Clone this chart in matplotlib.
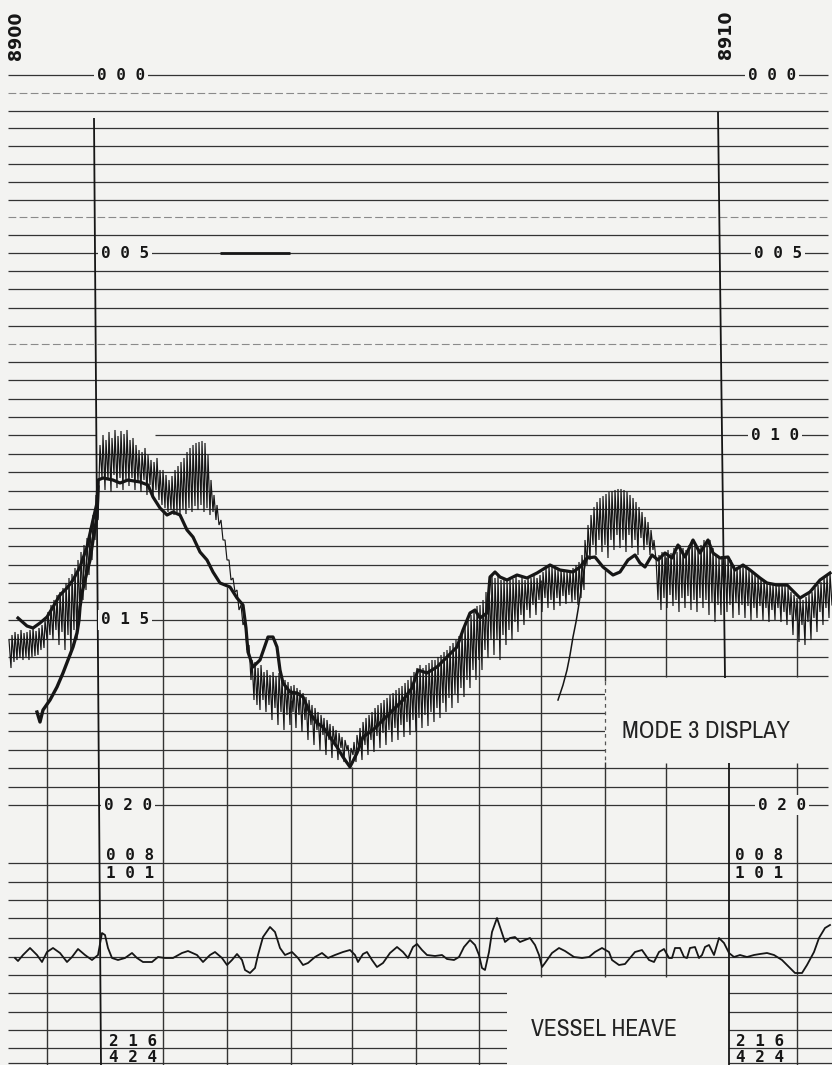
import numpy as np
import matplotlib
matplotlib.use("Agg")
import matplotlib.pyplot as plt
import matplotlib.font_manager as fm
from matplotlib.patches import Rectangle

# ---------------------------------------------------------------
# Data read from the record (x: position along the record,
# y: position down the record, 0 at the top edge)
# ---------------------------------------------------------------
fix_labels = ["8900", "8910"]
fix_label_x = [16, 726]
fix_label_y = [36, 35]

# depth scale rows: labelled rows 000/005/010/015/020
depth_anchor_row = [0, 10, 20, 30, 40]
depth_anchor_y = [75, 253, 435, 620, 805]
lower_rows_y = [863, 882, 900, 918, 938, 957, 975, 993, 1012, 1030, 1048, 1063]
faint_rows = [1, 8, 15]

left_labels = ["0 0 0", "0 0 5", "0 1 5", "0 2 0"]
left_label_x = [121, 125, 125, 128]
left_label_y = [75, 253, 620, 805]
right_labels = ["0 0 0", "0 0 5", "0 1 0", "0 2 0"]
right_label_x = [772, 778, 775, 782]
right_label_y = [75, 253, 435, 805]

info_labels = ["0 0 8", "1 0 1", "2 1 6", "4 2 4"]
info_label_y = [855, 874, 1041, 1057]
info_label_x_left = [130, 130, 133, 133]
info_label_x_right = [759, 759, 760, 760]

# fix (major) lines: top x, top y, bottom x, bottom y
fix_lines = [(94, 118, 101, 1065), (718, 112, 725, 678), (729, 763, 729, 1065)]

# timing marks hanging below the trace: x, start, end
time_marks = [(47, 618, 1065), (163, 510, 1065), (227, 587, 1065), (291, 700, 1065),
              (352, 767, 1065), (416, 690, 1065), (479, 620, 1065), (541, 580, 977),
              (605, 570, 681), (605, 762, 977), (666, 557, 677), (666, 763, 977),
              (797, 600, 677), (797, 763, 1065)]
dashed_marks = [(605, 681, 762)]

# blank boxes for captions: x0, y0, x1, y1
mode_box = (605, 681, 832, 762)
heave_box = (507, 981, 729, 1065)

# smoothed bottom profile (heavy line)
bottom_profile = [
    (18, 618), (27, 626), (33, 628), (40, 623), (47, 617), (53, 607), (60, 595), (67, 588),
    (73, 580), (80, 567), (87, 547), (93, 520), (97, 503), (98, 480), (103, 478), (113, 480),
    (120, 483), (128, 480), (140, 482), (148, 485), (153, 497), (160, 508), (167, 515),
    (173, 512), (180, 515), (187, 530), (193, 537), (200, 552), (207, 560), (213, 572),
    (220, 583), (230, 587), (237, 598), (243, 605), (246, 628), (248, 652), (253, 667),
    (260, 660), (268, 637), (273, 637), (277, 647), (280, 670), (283, 683), (290, 692),
    (297, 693), (303, 697), (310, 713), (317, 723), (323, 727), (330, 737), (337, 747),
    (343, 757), (350, 767), (357, 753), (363, 737), (373, 730), (383, 720), (393, 710),
    (403, 700), (412, 688), (418, 670), (427, 673), (437, 667), (447, 657), (457, 647),
    (463, 630), (470, 613), (475, 610), (480, 618), (487, 613), (490, 577), (495, 572),
    (500, 577), (507, 580), (517, 575), (527, 578), (537, 573), (550, 565), (560, 570),
    (573, 572), (580, 567), (587, 558), (595, 557), (603, 567), (613, 575), (620, 572),
    (628, 560), (635, 555), (640, 563), (645, 567), (652, 555), (658, 560), (665, 553),
    (672, 558), (678, 545), (685, 557), (693, 540), (700, 553), (708, 540), (713, 553),
    (720, 558), (728, 557), (735, 570), (743, 565), (750, 570), (760, 578), (767, 583),
    (777, 585), (787, 585), (800, 598), (810, 592), (820, 580), (830, 573)]

# raw (unsmoothed) returns: x, top of spike, bottom of spike
raw_left = [(9, 640, 668), (12, 635, 662), (15, 632, 660), (18, 634, 658), (21, 630, 660),
            (24, 633, 657), (27, 632, 660), (30, 630, 657), (33, 628, 656), (36, 631, 655),
            (39, 628, 650), (42, 625, 648), (45, 620, 640)]
raw_rise = [(48, 612, 635), (51, 605, 640), (54, 600, 630), (57, 595, 645), (60, 592, 632),
            (63, 588, 650), (66, 583, 635), (69, 578, 655), (72, 574, 630), (75, 568, 640),
            (78, 560, 615), (81, 552, 600), (84, 545, 590), (87, 538, 575), (90, 528, 560),
            (93, 515, 540), (96, 495, 520)]
raw_peak1 = [(100, 445, 478), (103, 435, 490), (106, 440, 480), (109, 432, 492), (112, 438, 475),
             (115, 430, 488), (118, 436, 478), (121, 431, 490), (124, 434, 480), (127, 430, 486),
             (130, 440, 478), (133, 438, 490), (136, 445, 482), (139, 450, 492), (142, 452, 480),
             (145, 448, 495), (148, 455, 485), (151, 460, 498), (154, 462, 490), (157, 458, 500),
             (160, 470, 505)]
raw_peak2 = [(163, 470, 508), (166, 475, 512), (169, 480, 510), (172, 476, 515), (175, 470, 512),
             (178, 466, 515), (181, 462, 510), (184, 458, 514), (187, 452, 508), (190, 448, 512),
             (193, 445, 506), (196, 443, 510), (199, 442, 505), (202, 441, 512), (205, 443, 508),
             (208, 455, 515), (211, 480, 512), (214, 495, 520)]
raw_descent = [(217, 505, 525), (221, 520, 540), (225, 540, 560), (229, 560, 580), (233, 578, 592),
               (237, 590, 610), (241, 605, 625), (245, 620, 650), (249, 645, 680), (252, 660, 700)]
raw_valley = [(255, 662, 705), (258, 668, 710), (261, 665, 700), (264, 672, 712), (267, 670, 705),
              (270, 675, 720), (273, 672, 708), (276, 676, 725), (279, 673, 712), (282, 678, 730),
              (285, 680, 715), (288, 682, 725), (291, 686, 712), (294, 685, 728), (297, 688, 715),
              (300, 690, 732), (303, 693, 720), (306, 697, 740), (309, 700, 725), (312, 705, 745),
              (315, 708, 730), (318, 712, 750), (321, 715, 735), (324, 718, 755), (327, 720, 740),
              (330, 724, 758), (333, 726, 745), (336, 730, 760), (339, 733, 748), (342, 737, 762),
              (345, 740, 750), (348, 745, 765), (351, 748, 755), (354, 742, 762), (357, 735, 750),
              (360, 728, 760), (363, 722, 745), (366, 718, 755), (369, 715, 740), (372, 712, 752),
              (375, 708, 736), (378, 705, 748), (381, 703, 733), (384, 700, 745), (387, 698, 730),
              (390, 695, 742), (393, 693, 728), (396, 690, 740), (399, 688, 725), (402, 686, 737),
              (405, 683, 722), (408, 680, 735), (411, 676, 720), (414, 672, 732), (417, 668, 718),
              (420, 665, 728), (423, 668, 715), (426, 665, 726), (429, 663, 712), (432, 660, 722),
              (435, 660, 708), (438, 657, 718), (441, 655, 703), (444, 652, 712), (447, 650, 698),
              (450, 646, 708), (453, 643, 694), (456, 640, 703), (459, 636, 688), (462, 632, 697),
              (465, 626, 680), (468, 620, 688), (471, 615, 670), (474, 610, 680), (477, 606, 660),
              (480, 605, 670), (483, 600, 650), (486, 592, 658), (489, 585, 640)]
raw_terrace = [(492, 575, 655), (495, 578, 640), (498, 576, 660), (501, 580, 635), (504, 578, 645),
               (507, 580, 630), (510, 577, 640), (513, 579, 622), (516, 576, 632), (519, 580, 615),
               (522, 578, 625), (525, 580, 610), (528, 577, 618), (531, 578, 605), (534, 576, 615),
               (537, 578, 600), (540, 575, 612), (543, 572, 598), (546, 568, 608), (549, 566, 600),
               (552, 567, 610), (555, 568, 598), (558, 570, 606), (561, 570, 596), (564, 571, 604),
               (567, 572, 595), (570, 571, 602), (573, 568, 600), (576, 565, 605), (579, 562, 598),
               (582, 555, 590)]
raw_hump = [(585, 540, 565), (588, 525, 560), (591, 515, 545), (594, 507, 555), (597, 502, 540),
            (600, 498, 552), (603, 496, 545), (606, 494, 558), (609, 492, 540), (612, 491, 550),
            (615, 490, 535), (618, 489, 548), (621, 489, 540), (624, 490, 552), (627, 492, 535),
            (630, 495, 548), (633, 498, 540), (636, 502, 555), (639, 507, 538), (642, 512, 550),
            (645, 517, 545), (648, 522, 555), (651, 530, 550), (654, 540, 560)]
raw_right = [(656, 558, 600), (659, 555, 610), (662, 552, 598), (665, 552, 608), (668, 550, 595),
             (671, 553, 606), (674, 548, 600), (677, 552, 612), (680, 545, 598), (683, 548, 608),
             (686, 550, 596), (689, 545, 610), (692, 540, 600), (695, 545, 612), (698, 550, 598),
             (701, 545, 608), (704, 540, 600), (707, 542, 615), (710, 540, 602), (713, 548, 622),
             (716, 555, 605), (719, 557, 615), (722, 556, 600), (725, 556, 612), (728, 557, 605),
             (731, 560, 618), (734, 565, 603), (737, 567, 615), (740, 566, 605), (743, 565, 618),
             (746, 568, 606), (749, 570, 620), (752, 572, 608), (755, 575, 618), (758, 577, 606),
             (761, 578, 620), (764, 580, 608), (767, 582, 622), (770, 583, 610), (773, 584, 620),
             (776, 585, 608), (779, 585, 622), (782, 585, 612), (785, 586, 625), (788, 588, 615),
             (791, 592, 635), (794, 595, 620), (797, 598, 642), (800, 598, 625), (803, 600, 645),
             (806, 597, 622), (809, 594, 640), (812, 592, 618), (815, 588, 632), (818, 585, 612),
             (821, 582, 625), (824, 578, 608), (827, 575, 618), (830, 573, 605)]

# side echoes (separate thin tracks)
left_echo = [(37, 712), (40, 722), (43, 710), (50, 700), (57, 687), (63, 673), (68, 660),
             (73, 647), (77, 633), (79, 620), (80, 607), (82, 593), (85, 580), (90, 560),
             (93, 540), (97, 517), (98, 487)]
right_echo = [(558, 700), (563, 685), (567, 670), (570, 655), (573, 637), (576, 622),
              (578, 610), (580, 597), (582, 583), (585, 565), (588, 556)]

# vessel heave trace
heave = [
    (15, 958), (18, 961), (23, 955), (30, 948), (37, 955), (42, 962), (47, 952), (53, 948),
    (60, 953), (67, 962), (72, 957), (78, 949), (85, 955), (92, 960), (98, 955), (102, 933),
    (105, 935), (108, 948), (112, 958), (118, 960), (125, 958), (132, 953), (137, 958),
    (143, 962), (152, 962), (158, 957), (165, 958), (173, 958), (182, 953), (188, 951),
    (197, 955), (203, 962), (210, 955), (215, 952), (222, 958), (227, 965), (232, 960),
    (237, 954), (242, 960), (245, 970), (250, 973), (255, 968), (258, 955), (263, 937),
    (270, 927), (275, 932), (280, 948), (285, 955), (292, 952), (298, 958), (303, 965),
    (308, 963), (315, 957), (322, 953), (328, 958), (335, 955), (343, 952), (350, 950),
    (355, 955), (358, 962), (363, 954), (367, 952), (372, 960), (377, 967), (383, 963),
    (390, 953), (397, 947), (403, 952), (408, 958), (413, 947), (417, 944), (422, 950),
    (427, 955), (435, 956), (442, 955), (447, 959), (454, 960), (459, 957), (464, 947),
    (470, 940), (475, 945), (479, 955), (482, 968), (485, 970), (489, 952), (492, 932),
    (497, 918), (500, 927), (505, 942), (510, 938), (515, 937), (520, 942), (525, 940),
    (530, 938), (535, 945), (539, 955), (542, 967), (545, 963), (552, 953), (559, 948),
    (565, 951), (574, 957), (582, 958), (589, 957), (595, 952), (602, 948), (609, 952),
    (612, 960), (619, 965), (625, 964), (630, 958), (635, 952), (642, 950), (649, 960),
    (654, 962), (659, 952), (664, 949), (669, 958), (672, 958), (675, 948), (680, 948),
    (684, 957), (687, 958), (690, 948), (695, 947), (699, 958), (702, 955), (705, 947),
    (709, 945), (714, 955), (719, 938), (724, 943), (729, 953), (734, 957), (740, 955),
    (747, 957), (754, 955), (760, 954), (767, 953), (774, 955), (782, 960), (789, 967),
    (795, 973), (802, 973), (807, 965), (814, 952), (819, 938), (825, 928), (830, 925)]

# a heavier stretch of the 005 row
row_artifacts = [(10, 220, 290)]

captions = ["MODE 3 DISPLAY", "VESSEL HEAVE"]
caption_x = [706, 604]
caption_y = [732, 1029]
caption_width = [168, 146]   # measured extent on the record

# ---------------------------------------------------------------
PAPER = "#f3f3f1"
INK = "#161616"
GRID = "#333333"

# choose a narrow sans for the captions if one is installed
caption_family = None
caption_stretch = "normal"
for f in sorted(fm.fontManager.ttflist, key=lambda f: f.name):
    nm = f.name.lower()
    if ("narrow" in nm or "condensed" in nm or "condensed" in str(f.stretch).lower()) \
            and f.style == "normal" and f.weight in (400, "normal", "regular", "book") \
            and "mono" not in nm and "serif" not in nm:
        caption_family = f.name
        caption_stretch = f.stretch
        break
if caption_family is None:
    caption_family = "DejaVu Sans Mono"

fig = plt.figure(figsize=(8.32, 10.65), dpi=100, facecolor=PAPER)
ax = fig.add_axes([0, 0, 1, 1])
ax.set_facecolor(PAPER)
ax.set_xlim(0, 832)
ax.set_ylim(1065, 0)
ax.axis("off")

ROW_X0, ROW_X1 = 8, 828
rows_main = np.interp(np.arange(41), depth_anchor_row, depth_anchor_y)
for i, y in enumerate(rows_main):
    if i in faint_rows:
        ax.hlines(y, ROW_X0, ROW_X1, color="#8a8a8a", lw=0.8, ls=(0, (7, 3)), zorder=1)
    elif i == 20:
        ax.hlines(y, ROW_X0, 96, color=GRID, lw=0.9, zorder=1)
        ax.hlines(y, 155, ROW_X1, color=GRID, lw=0.9, zorder=1)
    else:
        ax.hlines(y, ROW_X0, ROW_X1, color=GRID, lw=0.9, zorder=1)
for y in lower_rows_y:
    ax.hlines(y, ROW_X0, 832, color=GRID, lw=0.9, zorder=1)
for r, x0, x1 in row_artifacts:
    ax.hlines(rows_main[r], x0, x1, color=INK, lw=2.0, zorder=1.5)

# caption boxes blank out the grid rows
for (x0, y0, x1, y1) in (mode_box, heave_box):
    ax.add_patch(Rectangle((x0, y0), x1 - x0, y1 - y0, facecolor=PAPER,
                           edgecolor="none", zorder=2))

# vertical lines
for xt, yt, xb, yb in fix_lines:
    ax.plot([xt, xb], [yt, yb], color=INK, lw=1.3, zorder=2.5, solid_capstyle="butt")
for x, y0, y1 in time_marks:
    ax.vlines(x, y0, y1, color=GRID, lw=1.0, zorder=2.5)
for x, y0, y1 in dashed_marks:
    ax.vlines(x, y0, y1, color="#555555", lw=0.9, ls=(0, (3, 3)), zorder=2.5)

# raw returns as hanging spikes
def zigzag(spikes):
    xs, ys = [], []
    for x, top, bot in spikes:
        xs += [x, x + 2.0]
        ys += [top, bot]
    return xs, ys

raw_all = (raw_left + raw_rise + raw_peak1 + raw_peak2 + raw_descent +
           raw_valley + raw_terrace + raw_hump + raw_right)
rx, ry = zigzag(raw_all)
ax.plot(rx, ry, color=INK, lw=0.85, zorder=3, solid_joinstyle="miter")

ex, ey = zip(*left_echo)
ax.plot(ex, ey, color=INK, lw=2.4, zorder=3)
ex, ey = zip(*right_echo)
ax.plot(ex, ey, color=INK, lw=1.1, zorder=3)

bx, by = zip(*bottom_profile)
ax.plot(bx, by, color=INK, lw=2.3, zorder=3.2, solid_joinstyle="round")

hx, hy = zip(*heave)
ax.plot(hx, hy, color=INK, lw=1.3, zorder=3, solid_joinstyle="round")

# labels
num_font = dict(family="DejaVu Sans Mono", weight="bold", fontsize=11.5, color=INK)
for t, x, y in zip(left_labels, left_label_x, left_label_y):
    ax.text(x, y, t, ha="center", va="center", zorder=4,
            bbox=dict(facecolor=PAPER, edgecolor="none", pad=2.0), **num_font)
for t, x, y in zip(right_labels, right_label_x, right_label_y):
    ax.text(x, y, t, ha="center", va="center", zorder=4,
            bbox=dict(facecolor=PAPER, edgecolor="none", pad=2.0), **num_font)
for t, xl, xr, y in zip(info_labels, info_label_x_left, info_label_x_right, info_label_y):
    ax.text(xl, y, t, ha="center", va="center", zorder=4, **num_font)
    ax.text(xr, y, t, ha="center", va="center", zorder=4, **num_font)

for t, x, y in zip(fix_labels, fix_label_x, fix_label_y):
    ax.text(x, y, t, rotation=90, ha="center", va="center", fontsize=12.5,
            family="DejaVu Sans", weight="bold", color=INK, zorder=4)

# captions, sized to their measured width on the record
fig.canvas.draw()
renderer = fig.canvas.get_renderer()
for t, x, y, w in zip(captions, caption_x, caption_y, caption_width):
    txt = ax.text(x, y, t, ha="center", va="center", fontsize=17.5,
                  family=[caption_family, "DejaVu Sans"], stretch=caption_stretch,
                  color="#222222", zorder=4)
    bb = txt.get_window_extent(renderer=renderer)
    size = min(19.0, 17.5 * w / bb.width)
    txt.set_fontsize(size)

fig.savefig("out.png", dpi=100, facecolor=PAPER)
